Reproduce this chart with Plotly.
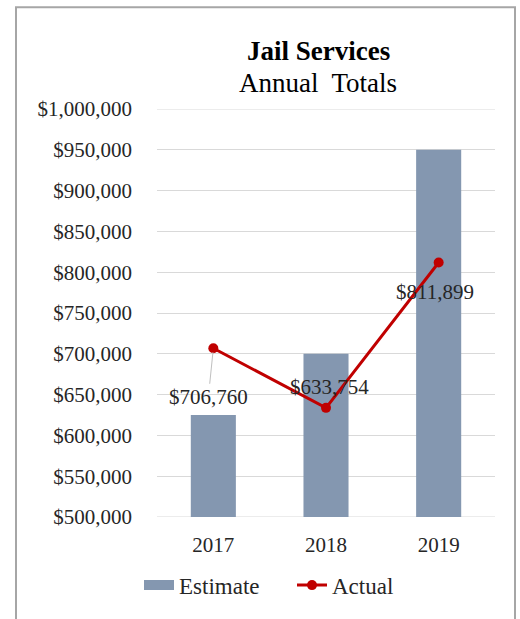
import plotly.graph_objects as go

years = [2017, 2018, 2019]
estimate = [625000, 700000, 950000]
actual = [706760, 633754, 811899]
y_ticks = [500000, 550000, 600000, 650000, 700000, 750000, 800000, 850000, 900000, 950000, 1000000]

W, H = 520, 619
L, R, T, B = 157, 25, 109, 97
pw, ph = W - L - R, H - T - B


def px_x(x):
    return (x - L) / pw


def px_y(y):
    return (H - B - y) / ph


SERIF = "Liberation Serif, Times New Roman, serif"
TXT = "#262626"
BAR_C = "#8497B0"
GRID_C = "#D9D9D9"

fig = go.Figure()
fig.add_trace(go.Bar(
    x=years, y=estimate, name="Estimate", showlegend=False, width=0.4,
    marker=dict(color=BAR_C, line=dict(width=0)),
))
# wide rectangular legend key for the Estimate bars
fig.add_trace(go.Scatter(
    x=[None], y=[None], name="Estimate", mode="lines",
    line=dict(color=BAR_C, width=10),
))
fig.add_trace(go.Scatter(
    x=years, y=actual, name="Actual", mode="lines+markers",
    line=dict(color="#C00000", width=3),
    marker=dict(color="#C00000", size=10),
))

# data labels for the Actual line
offsets = [dict(showarrow=True, ax=-5, ay=49, arrowhead=0, arrowwidth=1,
                arrowcolor="#BFBFBF", standoff=4),
           dict(showarrow=False, xshift=3, yshift=21),
           dict(showarrow=False, xshift=-4, yshift=-30)]
for yr, v, o in zip(years, actual, offsets):
    fig.add_annotation(x=yr, y=v, xref="x", yref="y", text=f"${v:,.0f}",
                       font=dict(family=SERIF, size=21, color=TXT), **o)

# chart title
fig.add_annotation(x=px_x(318), y=px_y(50), xref="paper", yref="paper",
                   xanchor="center", yanchor="middle",
                   text="<b>Jail Services</b>", showarrow=False,
                   font=dict(family=SERIF, size=27, color="#000000"))
fig.add_annotation(x=px_x(318), y=px_y(83), xref="paper", yref="paper",
                   xanchor="center", yanchor="middle",
                   text="Annual  Totals", showarrow=False,
                   font=dict(family=SERIF, size=27, color="#000000"))

# gridlines at the two ends of the value range
for yv in (y_ticks[0], y_ticks[-1]):
    fig.add_shape(type="line", xref="paper", yref="y", x0=0, x1=1, y0=yv, y1=yv,
                  line=dict(color=GRID_C, width=1), layer="below")

# chart border
fig.add_shape(type="rect", xref="paper", yref="paper",
              x0=px_x(16), x1=px_x(515), y0=px_y(640), y1=px_y(6),
              line=dict(color="#A6A6A6", width=2), fillcolor="rgba(0,0,0,0)",
              layer="below")

fig.update_layout(
    width=W, height=H,
    margin=dict(l=L, r=R, t=T, b=B),
    paper_bgcolor="white", plot_bgcolor="white",
    showlegend=True,
    legend=dict(orientation="h", x=px_x(139), xanchor="left", y=px_y(591),
                yanchor="middle", font=dict(family=SERIF, size=23, color=TXT),
                traceorder="normal", itemsizing="trace",
                bgcolor="rgba(0,0,0,0)",
                entrywidth=108, entrywidthmode="pixels"),
    xaxis=dict(type="linear", range=[2016.5, 2019.5], tickvals=years,
               ticktext=[str(y) for y in years],
               showgrid=False, showline=False, ticks="", zeroline=False,
               tickfont=dict(family=SERIF, size=21, color=TXT),
               ticklabelstandoff=13),
    yaxis=dict(range=[500000, 1000000], tickvals=y_ticks, tickformat="$,.0f",
               showgrid=True, gridcolor=GRID_C, gridwidth=1,
               zeroline=False, showline=False, ticks="",
               tickfont=dict(family=SERIF, size=21, color=TXT),
               ticklabelstandoff=24),
)

fig.write_html("out.html")
